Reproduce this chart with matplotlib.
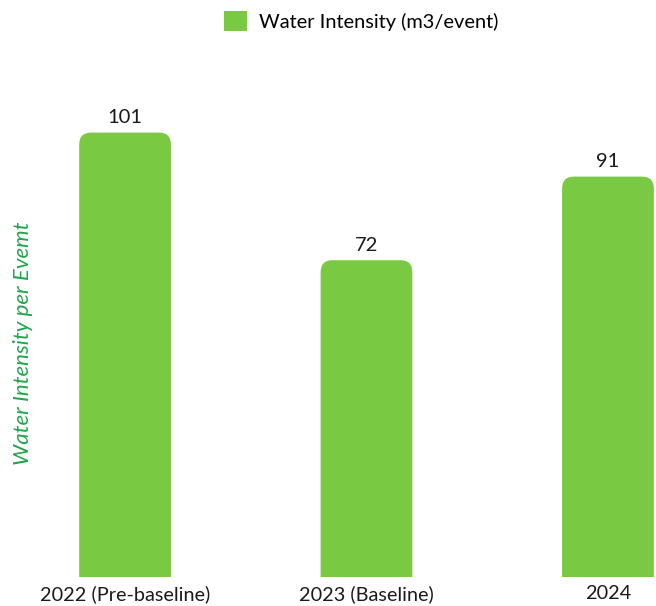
import matplotlib
matplotlib.use("Agg")
import matplotlib.pyplot as plt
from matplotlib.path import Path
from matplotlib.patches import PathPatch, Patch

plt.rcParams['font.family'] = ['Lato', 'DejaVu Sans']

categories = ["2022 (Pre-baseline)", "2023 (Baseline)", "2024"]
values = [101, 72, 91]
series_name = "Water Intensity (m3/event)"
BAR_COLOR = "#7AC943"

W, H = 656, 606
fig = plt.figure(figsize=(W / 100, H / 100), dpi=100)
ax = fig.add_axes([0, 29 / H, 1, (577 - 71) / H])
ax.set_xlim(-0.518, 2.199)
ax.set_ylim(0, 115)

bar_w = 0.38
# corner radius in pixels -> data units
px_x = (2.199 + 0.518) / W
px_y = 115 / (577 - 71)
rx, ry = 12 * px_x, 12 * px_y


def rounded_bar(x, h):
    l, r = x - bar_w / 2, x + bar_w / 2
    verts = [(l, 0), (l, h - ry), (l, h), (l + rx, h),
             (r - rx, h), (r, h), (r, h - ry), (r, 0), (l, 0)]
    codes = [Path.MOVETO, Path.LINETO, Path.CURVE3, Path.CURVE3,
             Path.LINETO, Path.CURVE3, Path.CURVE3, Path.LINETO, Path.CLOSEPOLY]
    return PathPatch(Path(verts, codes), facecolor=BAR_COLOR, edgecolor='none')


for i, v in enumerate(values):
    ax.add_patch(rounded_bar(i, v))
    ax.text(i, v + 1.5, str(v), ha='center', va='bottom', fontsize=14.5, color='#1a1a1a')

ax.set_xticks(range(len(categories)))
ax.set_xticklabels(categories, fontsize=14.3, color='#1a1a1a')
ax.tick_params(axis='x', length=0, pad=6)
ax.set_yticks([])
for s in ax.spines.values():
    s.set_visible(False)
ax.patch.set_alpha(0)

fig.text(23 / W, 1 - 343 / H, "Water Intensity per Evemt", rotation=90, ha='center', va='center',
         fontsize=16, style='italic', color='#1FA64A')

fig.legend(handles=[Patch(facecolor=BAR_COLOR, edgecolor='none', label=series_name)],
           loc='center', bbox_to_anchor=(361 / W, 1 - 21 / H), frameon=False,
           fontsize=14.4, handlelength=1.15, handleheight=1.15, handletextpad=0.6)

fig.savefig("out.png", dpi=100, facecolor='white')
